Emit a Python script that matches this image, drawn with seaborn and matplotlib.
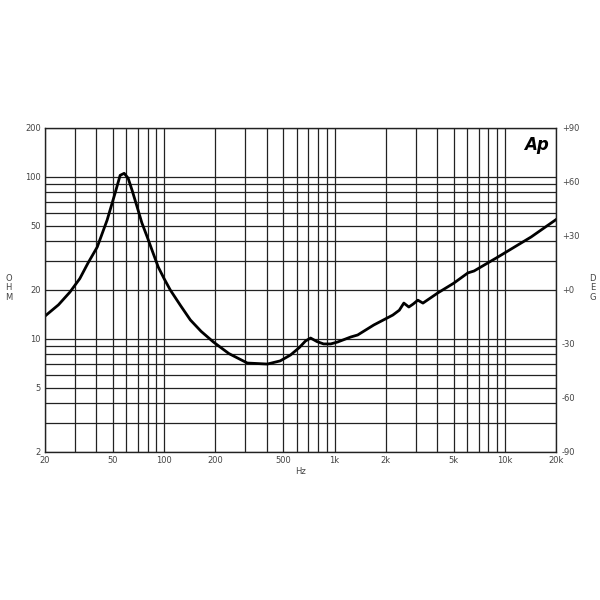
import numpy as np
import pandas as pd
import seaborn as sns
import matplotlib.pyplot as plt
from matplotlib.ticker import FixedLocator, NullFormatter

# impedance curve (Hz, ohm)
freq = [20, 24, 28, 32, 35.8, 40.5, 46.3, 51.6, 55.2, 58.3, 61.5, 65, 69.5, 74,
        79.6, 86, 92.4, 100, 108.7, 125, 142.6, 165, 194.6, 240, 308, 404, 480,
        552, 620, 676, 724, 790, 863, 950, 1044, 1245, 1368, 1700, 2198, 2400,
        2552, 2730, 2900, 3083, 3304, 4045, 5000, 6068, 6592, 9120, 14260, 20560]
ohm = [13.8, 16.2, 19.4, 23.5, 29.4, 36.8, 54, 79.4, 102, 105, 98, 82, 65, 52,
       42.5, 34, 27.7, 23.5, 20, 16, 13.06, 11.1, 9.55, 8.1, 7.08, 6.98, 7.3,
       7.94, 8.8, 9.69, 10.1, 9.6, 9.29, 9.29, 9.55, 10.25, 10.55, 12.16, 14.0,
       15.0, 16.6, 15.7, 16.4, 17.3, 16.6, 19.2, 22.0, 25.5, 26.2, 32, 42.5, 55.6]

x_ticks = [20, 50, 100, 200, 500, 1000, 2000, 5000, 10000, 20000]
x_labels = ["20", "50", "100", "200", "500", "1k", "2k", "5k", "10k", "20k"]
y_ticks = [2, 5, 10, 20, 50, 100, 200]
y_labels = ["2", "5", "10", "20", "50", "100", "200"]
deg_ticks = [-90, -60, -30, 0, 30, 60, 90]
deg_labels = ["-90", "-60", "-30", "+0", "+30", "+60", "+90"]

df = pd.DataFrame({"Hz": freq, "ohm": ohm})

sns.set_theme(style="white")
fig = plt.figure(figsize=(6, 6), dpi=100)
ax = fig.add_axes([0.075, 0.2467, 0.852, 0.54])

sns.lineplot(data=df, x="Hz", y="ohm", ax=ax, color="black", lw=2, sort=False)
ax.set_xscale("log")
ax.set_yscale("log")
ax.set_xlim(20, 20000)
ax.set_ylim(2, 200)

grid_x = [m * 10 ** e for e in range(1, 5) for m in range(1, 10)]
grid_x = [g for g in grid_x if 20 <= g <= 20000]
grid_y = [m * 10 ** e for e in range(0, 3) for m in range(1, 10)]
grid_y = [g for g in grid_y if 2 <= g <= 200]

ax.xaxis.set_major_locator(FixedLocator(x_ticks))
ax.xaxis.set_minor_locator(FixedLocator(grid_x))
ax.yaxis.set_major_locator(FixedLocator(y_ticks))
ax.yaxis.set_minor_locator(FixedLocator(grid_y))
ax.xaxis.set_minor_formatter(NullFormatter())
ax.yaxis.set_minor_formatter(NullFormatter())
ax.set_xticklabels(x_labels)
ax.set_yticklabels(y_labels)
ax.grid(which="both", color="#222222", lw=0.9)
ax.tick_params(which="both", length=0, labelsize=6, labelcolor="#444444", pad=3)
for s in ax.spines.values():
    s.set_color("#222222")
    s.set_linewidth(1)
ax.set_xlabel("")
ax.set_ylabel("")

ax2 = ax.twinx()
ax2.set_ylim(-90, 90)
ax2.set_yticks(deg_ticks)
ax2.set_yticklabels(deg_labels)
ax2.grid(False)
ax2.tick_params(length=0, labelsize=6, labelcolor="#444444", pad=4)
for s in ax2.spines.values():
    s.set_visible(False)

ax.text(0.985, 0.975, "Ap", transform=ax.transAxes, ha="right", va="top",
        fontsize=12, fontweight="bold", fontstyle="italic", color="black")

fig.text(0.5, 0.215, "Hz", ha="center", va="center", fontsize=6, color="#444444")
fig.text(0.014, 0.52, "O\nH\nM", ha="center", va="center", fontsize=6,
         color="#444444", linespacing=1.1)
fig.text(0.988, 0.52, "D\nE\nG", ha="center", va="center", fontsize=6,
         color="#444444", linespacing=1.1)

fig.savefig("out.png", dpi=100, facecolor="white")
